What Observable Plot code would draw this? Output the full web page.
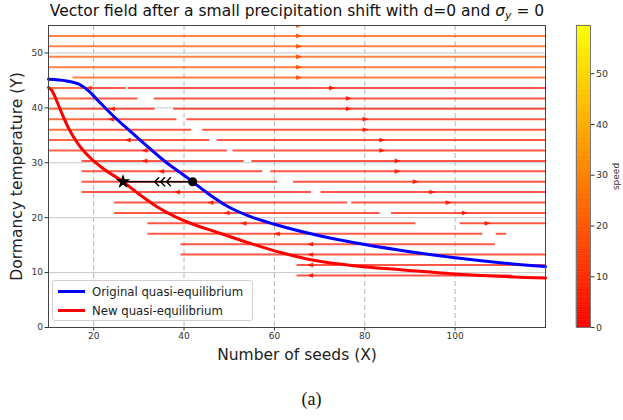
<!DOCTYPE html>
<html><head><meta charset="utf-8">
<script src="https://cdn.jsdelivr.net/npm/d3@7"></script>
<script src="https://cdn.jsdelivr.net/npm/@observablehq/plot@0.6"></script>
<style>
body{margin:0;background:#fff;font-family:"DejaVu Sans",sans-serif;}
#wrap{position:relative;width:623px;height:420px;overflow:hidden;background:#fff;}
#title{position:absolute;left:0;top:2px;width:594px;text-align:center;font-size:15.5px;color:#111;white-space:nowrap;}
#title sub{font-size:11px;vertical-align:-3px;line-height:0;}
#main{position:absolute;left:0;top:0;}
#cbar{position:absolute;left:560px;top:0;}
#legend{position:absolute;left:52px;top:280px;width:201px;height:41px;border:1px solid #d0d0d0;border-radius:3px;background:rgba(255,255,255,0.85);box-sizing:border-box;font-size:11.7px;color:#222;}
#legend .row{position:absolute;left:5px;height:14px;line-height:14px;white-space:nowrap;}
#legend .sw{display:inline-block;width:27px;height:3px;vertical-align:middle;margin-right:7px;position:relative;top:-1px;}
#caption{position:absolute;left:0;width:623px;top:389px;text-align:center;font-family:"Liberation Serif",serif;font-size:18px;color:#111;}
#main g[aria-label="x-axis label"] text,#main g[aria-label="y-axis label"] text{font-size:15.5px;fill:#222;}
#cbar g[aria-label="y-axis label"] text{font-size:9px;}
</style></head>
<body>
<div id="wrap">
  <div id="title">Vector field after a small precipitation shift with d=0 and <i>σ</i><sub><i>y</i></sub> = 0</div>
  <div id="main"></div>
  <div id="cbar"></div>
  <div id="legend">
    <div class="row" style="top:4px"><span class="sw" style="background:#0000ff"></span>Original quasi-equilibrium</div>
    <div class="row" style="top:23px"><span class="sw" style="background:#ff0000"></span>New quasi-equilibrium</div>
  </div>
  <div id="caption">(a)</div>
</div>
<script>
// ---- data ----
const xTicks = [20, 40, 60, 80, 100];
const yTicks = [0, 10, 20, 30, 40, 50];
const speedTicks = [0, 10, 20, 30, 40, 50];

// streamline segments: [y, xStart, xEnd, speed]
const streamSegments = [
  [53.10, 10, 120, 19], [51.21, 10, 120, 19], [49.31, 10, 120, 19], [47.41, 10, 120, 19],
  [45.52, 15.3, 120, 18],
  [43.62, 10, 17, 14], [43.62, 17, 27.1, 5], [43.62, 27.6, 120, 5],
  [41.72, 10, 17, 14], [41.72, 17, 29.7, 5], [41.72, 33.3, 120, 5],
  [39.83, 10, 17, 14], [39.83, 17, 33.5, 5], [39.83, 37.6, 120, 5],
  [37.93, 10, 17, 13], [37.93, 17, 38.3, 5], [37.93, 40.5, 120, 5],
  [36.03, 10, 17, 12], [36.03, 17, 41.6, 5], [36.03, 44.0, 120, 5],
  [34.14, 10, 17, 10], [34.14, 17, 45.6, 5], [34.14, 47.2, 120, 5],
  [32.24, 10, 17, 9], [32.24, 17, 49.5, 5], [32.24, 50.7, 120, 5],
  [30.34, 17.3, 53.2, 5], [30.34, 54.9, 120, 5],
  [28.45, 17.3, 57.3, 5], [28.45, 59.1, 120, 5],
  [26.55, 17.3, 60.6, 5], [26.55, 64.1, 120, 5],
  [24.66, 17.3, 68.1, 5], [24.66, 70.2, 120, 5],
  [22.76, 24.5, 76.1, 5], [22.76, 77.0, 120, 5],
  [20.86, 24.5, 83.3, 5], [20.86, 85.8, 120, 5],
  [18.97, 31.9, 91.2, 5], [18.97, 101.0, 120, 5],
  [17.07, 31.9, 106.0, 5], [17.07, 109.0, 111.3, 5],
  [15.17, 39.2, 108.8, 5],
  [13.28, 39.2, 120, 5],
  [11.38, 64.9, 120, 5],
  [9.48, 64.9, 112.5, 5]
];
// arrow heads: [y, x, speed]
const arrowsRight = [
  [55.0, 65.4, 19], [53.10, 65.4, 19], [51.21, 65.4, 19], [49.31, 65.4, 19], [47.41, 65.4, 19], [45.52, 65.4, 18],
  [43.62, 72.7, 5], [41.72, 76.4, 5], [39.83, 76.4, 5], [37.93, 80.1, 5], [36.03, 80.1, 5],
  [34.14, 83.8, 5], [32.24, 83.8, 5], [30.34, 87.2, 5], [28.45, 87.2, 5], [26.55, 91.2, 5],
  [24.66, 94.9, 5], [22.76, 98.5, 5], [20.86, 102.1, 5], [18.97, 107.1, 5]
];
const arrowsLeft = [
  [43.62, 19.0, 12], [39.83, 24.1, 5], [37.93, 23.9, 5], [34.14, 27.6, 5], [32.24, 31.3, 5],
  [30.34, 31.3, 5], [28.45, 35.0, 5], [24.66, 38.5, 5], [22.76, 45.9, 5], [20.86, 49.5, 5],
  [18.97, 53.2, 5], [17.07, 60.6, 5], [15.17, 68.0, 5], [13.28, 68.0, 5], [11.38, 68.0, 5], [9.48, 68.0, 5]
];
// original quasi-equilibrium (blue)
const originalEq = [
  [10, 45.2], [14, 44.9], [17, 44.2], [19, 43.0], [21, 41.3], [24, 38.8], [28, 35.8], [32, 32.9],
  [36, 30.1], [39, 28.3], [41.9, 26.55], [45, 24.6], [50, 21.9], [55, 20.1], [60, 18.8], [70, 16.7],
  [80, 15.1], [90, 13.8], [100, 12.7], [110, 11.8], [120, 11.1]
];
// new quasi-equilibrium (red)
const newEq = [
  [10, 43.7], [10.8, 43.1], [11.8, 41.3], [13, 38.9], [14.5, 36.2], [16.5, 33.5], [19, 31.1],
  [22, 29.0], [26.5, 26.55], [30, 24.3], [34, 22.0], [38, 20.2], [42, 18.8], [46.7, 17.5],
  [54, 15.5], [61.6, 13.6], [69, 12.2], [77, 11.3], [88, 10.5], [99, 9.8], [120, 9.0]
];
const transitionPath = [[41.9, 26.55], [26.5, 26.55]];
const chevronX = [34.0, 35.3, 36.6];
const startPoint = [[41.9, 26.55]];
const endPoint = [[26.5, 26.55]];

// ---- helpers ----
const speedScale = {type: "linear", domain: [0, 59.5], range: ["#ff0000", "#ffff00"], interpolate: "rgb"};
const arrowR = {draw(ctx, size) { const s = Math.sqrt(size); ctx.moveTo(0.65*s, 0); ctx.lineTo(-0.5*s, -0.45*s); ctx.lineTo(-0.5*s, 0.45*s); ctx.closePath(); }};
const arrowL = {draw(ctx, size) { const s = Math.sqrt(size); ctx.moveTo(-0.65*s, 0); ctx.lineTo(0.5*s, -0.45*s); ctx.lineTo(0.5*s, 0.45*s); ctx.closePath(); }};
const chevron = {draw(ctx, size) { const s = Math.sqrt(size)*0.5; ctx.moveTo(0.5*s, -s); ctx.lineTo(-0.5*s, 0); ctx.lineTo(0.5*s, s); }};

const main = Plot.plot({
  width: 560, height: 365,
  marginLeft: 48, marginRight: 15, marginTop: 25, marginBottom: 38,
  x: {domain: [10, 120]},
  y: {domain: [0, 55]},
  color: speedScale,
  style: {fontFamily: "DejaVu Sans", fontSize: "9px", color: "#333", background: "transparent"},
  marks: [
    Plot.gridX(xTicks, {stroke: "#b8b8b8", strokeOpacity: 1, strokeDasharray: "5,3"}),
    Plot.gridY(yTicks.slice(1), {stroke: "#c8c8c8", strokeOpacity: 1}),
    Plot.link(streamSegments, {x1: d => d[1], x2: d => d[2], y1: d => d[0], y2: d => d[0], stroke: d => d[3], strokeWidth: 2, strokeOpacity: 0.72}),
    Plot.dot(arrowsRight, {x: d => d[1], y: d => d[0], fill: d => d[2], symbol: arrowR, r: 3, stroke: null, fillOpacity: 0.9, clip: true}),
    Plot.dot(arrowsLeft, {x: d => d[1], y: d => d[0], fill: d => d[2], symbol: arrowL, r: 3, stroke: null, fillOpacity: 0.9, clip: true}),
    Plot.line(originalEq, {x: d => d[0], y: d => d[1], stroke: "#0000ff", strokeWidth: 3, curve: "monotone-x"}),
    Plot.line(newEq, {x: d => d[0], y: d => d[1], stroke: "#ff0000", strokeWidth: 3, curve: "monotone-x"}),
    Plot.line(transitionPath, {x: d => d[0], y: d => d[1], stroke: "#000", strokeWidth: 1.5}),
    Plot.dot(chevronX, {x: d => d, y: 26.55, symbol: chevron, r: 5, stroke: "#000", fill: "none", strokeWidth: 1.4}),
    Plot.dot(endPoint, {x: d => d[0], y: d => d[1], symbol: "star", r: 4.6, fill: "#000", stroke: null}),
    Plot.dot(startPoint, {x: d => d[0], y: d => d[1], r: 4.5, fill: "#000", stroke: null}),
    Plot.frame({stroke: "#444"}),
    Plot.axisX({ticks: xTicks, tickSize: 3.5, tickPadding: 2, label: "Number of seeds (X)", labelAnchor: "center", labelOffset: 32, labelArrow: "none"}),
    Plot.axisY({ticks: yTicks, tickSize: 3.5, tickPadding: 2, label: "Dormancy temperature (Y)", labelAnchor: "center", labelOffset: 38, labelArrow: "none"})
  ]
});
document.getElementById("main").append(main);

const steps = d3.range(0, 59.5, 0.5);
const cbar = Plot.plot({
  width: 63, height: 365,
  marginLeft: 16, marginRight: 33, marginTop: 25, marginBottom: 38,
  x: {domain: [0, 1], axis: null},
  y: {domain: [0, 59.5]},
  color: speedScale,
  style: {fontFamily: "DejaVu Sans", fontSize: "9.5px", color: "#333", background: "transparent"},
  marks: [
    Plot.rect(steps, {x1: 0, x2: 1, y1: d => d, y2: d => d + 0.5, fill: d => d + 0.25, stroke: d => d + 0.25, strokeWidth: 0.5, inset: 0}),
    Plot.frame({stroke: "#777"}),
    Plot.axisY({anchor: "right", ticks: speedTicks, tickSize: 3.5, tickPadding: 2, label: "speed", labelAnchor: "center", labelOffset: 28, labelArrow: "none"})
  ]
});
document.getElementById("cbar").append(cbar);
</script>
</body></html>
